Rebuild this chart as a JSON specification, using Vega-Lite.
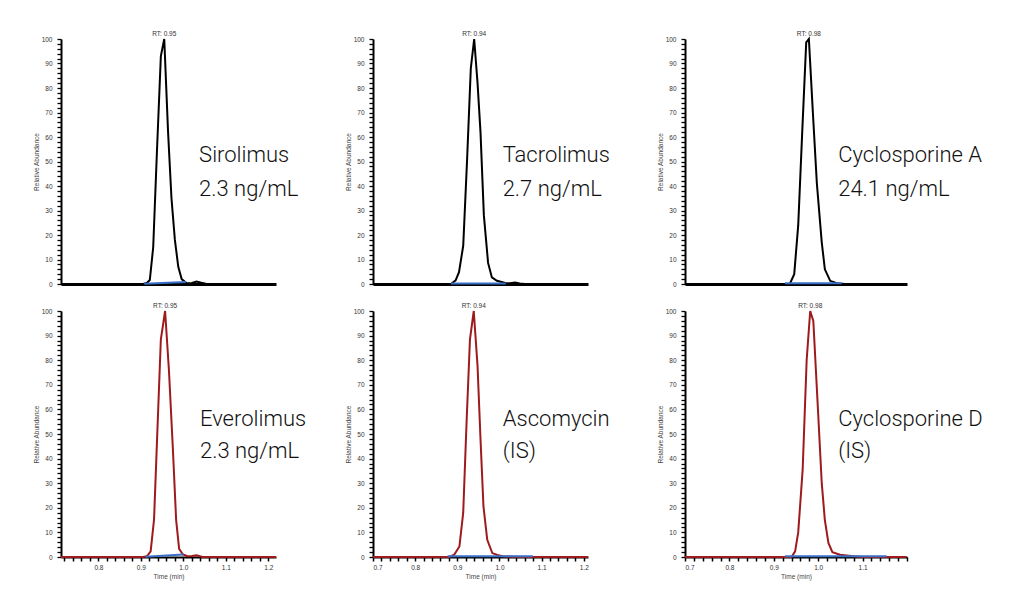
{
  "$schema": "https://vega.github.io/schema/vega-lite/v6.json",
  "padding": {"left": 33, "top": 31, "right": 5, "bottom": 5},
  "background": "white",
  "datasets": {
    "traces": [
      {"p": "Sirolimus", "t": 0.712, "a": 0}, {"p": "Sirolimus", "t": 0.905, "a": 0}, {"p": "Sirolimus", "t": 0.914, "a": 0.4}, {"p": "Sirolimus", "t": 0.921, "a": 1.6}, {"p": "Sirolimus", "t": 0.929, "a": 15}, {"p": "Sirolimus", "t": 0.938, "a": 55}, {"p": "Sirolimus", "t": 0.947, "a": 93}, {"p": "Sirolimus", "t": 0.955, "a": 100}, {"p": "Sirolimus", "t": 0.964, "a": 62}, {"p": "Sirolimus", "t": 0.972, "a": 35}, {"p": "Sirolimus", "t": 0.98, "a": 18}, {"p": "Sirolimus", "t": 0.988, "a": 7}, {"p": "Sirolimus", "t": 0.996, "a": 2}, {"p": "Sirolimus", "t": 1.008, "a": 0.3}, {"p": "Sirolimus", "t": 1.02, "a": 0.4}, {"p": "Sirolimus", "t": 1.031, "a": 1.0}, {"p": "Sirolimus", "t": 1.042, "a": 0.5}, {"p": "Sirolimus", "t": 1.055, "a": 0}, {"p": "Sirolimus", "t": 1.218, "a": 0},
      {"p": "Tacrolimus", "t": 0.7, "a": 0}, {"p": "Tacrolimus", "t": 0.885, "a": 0}, {"p": "Tacrolimus", "t": 0.896, "a": 1.5}, {"p": "Tacrolimus", "t": 0.904, "a": 4.8}, {"p": "Tacrolimus", "t": 0.914, "a": 15.6}, {"p": "Tacrolimus", "t": 0.923, "a": 50}, {"p": "Tacrolimus", "t": 0.932, "a": 88}, {"p": "Tacrolimus", "t": 0.94, "a": 100}, {"p": "Tacrolimus", "t": 0.948, "a": 82}, {"p": "Tacrolimus", "t": 0.955, "a": 62}, {"p": "Tacrolimus", "t": 0.963, "a": 28}, {"p": "Tacrolimus", "t": 0.973, "a": 8.6}, {"p": "Tacrolimus", "t": 0.982, "a": 2.7}, {"p": "Tacrolimus", "t": 0.994, "a": 1.3}, {"p": "Tacrolimus", "t": 1.014, "a": 0.4}, {"p": "Tacrolimus", "t": 1.025, "a": 0.3}, {"p": "Tacrolimus", "t": 1.037, "a": 0.6}, {"p": "Tacrolimus", "t": 1.048, "a": 0.2}, {"p": "Tacrolimus", "t": 1.06, "a": 0}, {"p": "Tacrolimus", "t": 1.21, "a": 0},
      {"p": "CsA", "t": 0.7, "a": 0}, {"p": "CsA", "t": 0.936, "a": 0}, {"p": "CsA", "t": 0.946, "a": 4}, {"p": "CsA", "t": 0.955, "a": 24}, {"p": "CsA", "t": 0.964, "a": 62}, {"p": "CsA", "t": 0.973, "a": 98.6}, {"p": "CsA", "t": 0.979, "a": 100}, {"p": "CsA", "t": 0.988, "a": 70}, {"p": "CsA", "t": 0.997, "a": 41}, {"p": "CsA", "t": 1.008, "a": 17}, {"p": "CsA", "t": 1.015, "a": 6}, {"p": "CsA", "t": 1.027, "a": 1.3}, {"p": "CsA", "t": 1.042, "a": 0.3}, {"p": "CsA", "t": 1.06, "a": 0}, {"p": "CsA", "t": 1.198, "a": 0},
      {"p": "Everolimus", "t": 0.712, "a": 0}, {"p": "Everolimus", "t": 0.905, "a": 0}, {"p": "Everolimus", "t": 0.914, "a": 0.3}, {"p": "Everolimus", "t": 0.923, "a": 2.3}, {"p": "Everolimus", "t": 0.931, "a": 15.3}, {"p": "Everolimus", "t": 0.939, "a": 52}, {"p": "Everolimus", "t": 0.947, "a": 88.5}, {"p": "Everolimus", "t": 0.957, "a": 100}, {"p": "Everolimus", "t": 0.966, "a": 76}, {"p": "Everolimus", "t": 0.975, "a": 45}, {"p": "Everolimus", "t": 0.983, "a": 15}, {"p": "Everolimus", "t": 0.99, "a": 3.3}, {"p": "Everolimus", "t": 0.999, "a": 1}, {"p": "Everolimus", "t": 1.01, "a": 0.3}, {"p": "Everolimus", "t": 1.02, "a": 0.4}, {"p": "Everolimus", "t": 1.031, "a": 0.7}, {"p": "Everolimus", "t": 1.045, "a": 0}, {"p": "Everolimus", "t": 1.218, "a": 0},
      {"p": "Ascomycin", "t": 0.7, "a": 0}, {"p": "Ascomycin", "t": 0.881, "a": 0}, {"p": "Ascomycin", "t": 0.893, "a": 1}, {"p": "Ascomycin", "t": 0.905, "a": 4.3}, {"p": "Ascomycin", "t": 0.914, "a": 18}, {"p": "Ascomycin", "t": 0.922, "a": 55}, {"p": "Ascomycin", "t": 0.93, "a": 88.5}, {"p": "Ascomycin", "t": 0.939, "a": 100}, {"p": "Ascomycin", "t": 0.948, "a": 77.6}, {"p": "Ascomycin", "t": 0.955, "a": 48}, {"p": "Ascomycin", "t": 0.962, "a": 20.6}, {"p": "Ascomycin", "t": 0.971, "a": 7}, {"p": "Ascomycin", "t": 0.983, "a": 1.6}, {"p": "Ascomycin", "t": 0.995, "a": 0.8}, {"p": "Ascomycin", "t": 1.007, "a": 0.3}, {"p": "Ascomycin", "t": 1.03, "a": 0.1}, {"p": "Ascomycin", "t": 1.05, "a": 0}, {"p": "Ascomycin", "t": 1.21, "a": 0},
      {"p": "CsD", "t": 0.7, "a": 0}, {"p": "CsD", "t": 0.94, "a": 0}, {"p": "CsD", "t": 0.948, "a": 2.3}, {"p": "CsD", "t": 0.955, "a": 10}, {"p": "CsD", "t": 0.965, "a": 35.5}, {"p": "CsD", "t": 0.974, "a": 80}, {"p": "CsD", "t": 0.982, "a": 100}, {"p": "CsD", "t": 0.989, "a": 96}, {"p": "CsD", "t": 1.0, "a": 58}, {"p": "CsD", "t": 1.008, "a": 30}, {"p": "CsD", "t": 1.015, "a": 15}, {"p": "CsD", "t": 1.023, "a": 5.7}, {"p": "CsD", "t": 1.032, "a": 2}, {"p": "CsD", "t": 1.049, "a": 0.9}, {"p": "CsD", "t": 1.079, "a": 0.3}, {"p": "CsD", "t": 1.1, "a": 0}, {"p": "CsD", "t": 1.198, "a": 0}
    ],
    "base": [
      {"p": "Sirolimus", "t": 0.908, "a": 0.1}, {"p": "Sirolimus", "t": 1.006, "a": 0.8},
      {"p": "Tacrolimus", "t": 0.885, "a": 0.2}, {"p": "Tacrolimus", "t": 1.015, "a": 0.2},
      {"p": "CsA", "t": 0.925, "a": 0.3}, {"p": "CsA", "t": 1.053, "a": 0.3},
      {"p": "Everolimus", "t": 0.911, "a": 0.1}, {"p": "Everolimus", "t": 1.0, "a": 1.0},
      {"p": "Ascomycin", "t": 0.877, "a": 0.3}, {"p": "Ascomycin", "t": 1.079, "a": 0.3},
      {"p": "CsD", "t": 0.925, "a": 0.3}, {"p": "CsD", "t": 1.154, "a": 0.3}
    ],
    "rt": [
      {"p": "Sirolimus", "t": 0.955, "txt": "RT: 0.95"},
      {"p": "Tacrolimus", "t": 0.94, "txt": "RT: 0.94"},
      {"p": "CsA", "t": 0.979, "txt": "RT: 0.98"},
      {"p": "Everolimus", "t": 0.957, "txt": "RT: 0.95"},
      {"p": "Ascomycin", "t": 0.939, "txt": "RT: 0.94"},
      {"p": "CsD", "t": 0.982, "txt": "RT: 0.98"}
    ],
    "ann": [
      {"p": "Sirolimus", "t": 1.037, "a": 49.8, "txt": "Sirolimus"}, {"p": "Sirolimus", "t": 1.037, "a": 36, "txt": "2.3 ng/mL"},
      {"p": "Tacrolimus", "t": 1.0075, "a": 49.8, "txt": "Tacrolimus"}, {"p": "Tacrolimus", "t": 1.0075, "a": 36, "txt": "2.7 ng/mL"},
      {"p": "CsA", "t": 1.045, "a": 49.8, "txt": "Cyclosporine A"}, {"p": "CsA", "t": 1.045, "a": 36, "txt": "24.1 ng/mL"},
      {"p": "Everolimus", "t": 1.039, "a": 53.2, "txt": "Everolimus"}, {"p": "Everolimus", "t": 1.039, "a": 40.3, "txt": "2.3 ng/mL"},
      {"p": "Ascomycin", "t": 1.008, "a": 53.2, "txt": "Ascomycin"}, {"p": "Ascomycin", "t": 1.008, "a": 40.3, "txt": "(IS)"},
      {"p": "CsD", "t": 1.045, "a": 53.2, "txt": "Cyclosporine D"}, {"p": "CsD", "t": 1.045, "a": 40.3, "txt": "(IS)"}
    ]
  },
  "bounds": "flush",
  "columns": 3,
  "spacing": {"row": 27, "column": 97},
  "concat": [
    {
      "width": 215, "height": 245,
      "layer": [
        {"data": {"name": "traces"}, "transform": [{"filter": "datum.p === 'Sirolimus'"}],
         "mark": {"type": "line", "color": "black", "strokeWidth": 2},
         "encoding": {
           "x": {"field": "t", "type": "quantitative", "scale": {"domain": [0.712, 1.218], "nice": false, "zero": false}, "axis": {"labels": false, "ticks": false, "title": null, "domainWidth": 3}},
           "y": {"field": "a", "type": "quantitative", "scale": {"domain": [0, 100], "nice": false}, "axis": {"title": "Relative Abundance", "tickCount": 50, "labelOverlap": false, "labelExpr": "datum.value % 10 === 0 ? datum.label : ''"}}}},
        {"data": {"name": "base"}, "transform": [{"filter": "datum.p === 'Sirolimus'"}],
         "mark": {"type": "line", "color": "#3a6fc7", "strokeWidth": 2},
         "encoding": {"x": {"field": "t", "type": "quantitative"}, "y": {"field": "a", "type": "quantitative"}}},
        {"data": {"name": "rt"}, "transform": [{"filter": "datum.p === 'Sirolimus'"}],
         "mark": {"type": "text", "fontSize": 6.5, "font": "Liberation Sans", "color": "#333", "baseline": "bottom", "dy": -2},
         "encoding": {"x": {"field": "t", "type": "quantitative"}, "y": {"datum": 100}, "text": {"field": "txt"}}},
        {"data": {"name": "ann"}, "transform": [{"filter": "datum.p === 'Sirolimus'"}],
         "mark": {"type": "text", "fontSize": 22, "font": "Roboto", "fontWeight": 300, "color": "#111", "align": "left", "baseline": "alphabetic"},
         "encoding": {"x": {"field": "t", "type": "quantitative"}, "y": {"field": "a", "type": "quantitative"}, "text": {"field": "txt"}}}
      ]
    },
    {
      "width": 215, "height": 245,
      "layer": [
        {"data": {"name": "traces"}, "transform": [{"filter": "datum.p === 'Tacrolimus'"}],
         "mark": {"type": "line", "color": "black", "strokeWidth": 2},
         "encoding": {
           "x": {"field": "t", "type": "quantitative", "scale": {"domain": [0.7, 1.21], "nice": false, "zero": false}, "axis": {"labels": false, "ticks": false, "title": null, "domainWidth": 3}},
           "y": {"field": "a", "type": "quantitative", "scale": {"domain": [0, 100], "nice": false}, "axis": {"title": "Relative Abundance", "tickCount": 50, "labelOverlap": false, "labelExpr": "datum.value % 10 === 0 ? datum.label : ''"}}}},
        {"data": {"name": "base"}, "transform": [{"filter": "datum.p === 'Tacrolimus'"}],
         "mark": {"type": "line", "color": "#3a6fc7", "strokeWidth": 2},
         "encoding": {"x": {"field": "t", "type": "quantitative"}, "y": {"field": "a", "type": "quantitative"}}},
        {"data": {"name": "rt"}, "transform": [{"filter": "datum.p === 'Tacrolimus'"}],
         "mark": {"type": "text", "fontSize": 6.5, "font": "Liberation Sans", "color": "#333", "baseline": "bottom", "dy": -2},
         "encoding": {"x": {"field": "t", "type": "quantitative"}, "y": {"datum": 100}, "text": {"field": "txt"}}},
        {"data": {"name": "ann"}, "transform": [{"filter": "datum.p === 'Tacrolimus'"}],
         "mark": {"type": "text", "fontSize": 22, "font": "Roboto", "fontWeight": 300, "color": "#111", "align": "left", "baseline": "alphabetic"},
         "encoding": {"x": {"field": "t", "type": "quantitative"}, "y": {"field": "a", "type": "quantitative"}, "text": {"field": "txt"}}}
      ]
    },
    {
      "width": 222, "height": 245,
      "layer": [
        {"data": {"name": "traces"}, "transform": [{"filter": "datum.p === 'CsA'"}],
         "mark": {"type": "line", "color": "black", "strokeWidth": 2},
         "encoding": {
           "x": {"field": "t", "type": "quantitative", "scale": {"domain": [0.7, 1.2], "nice": false, "zero": false}, "axis": {"labels": false, "ticks": false, "title": null, "domainWidth": 3}},
           "y": {"field": "a", "type": "quantitative", "scale": {"domain": [0, 100], "nice": false}, "axis": {"title": "Relative Abundance", "tickCount": 50, "labelOverlap": false, "labelExpr": "datum.value % 10 === 0 ? datum.label : ''"}}}},
        {"data": {"name": "base"}, "transform": [{"filter": "datum.p === 'CsA'"}],
         "mark": {"type": "line", "color": "#3a6fc7", "strokeWidth": 2},
         "encoding": {"x": {"field": "t", "type": "quantitative"}, "y": {"field": "a", "type": "quantitative"}}},
        {"data": {"name": "rt"}, "transform": [{"filter": "datum.p === 'CsA'"}],
         "mark": {"type": "text", "fontSize": 6.5, "font": "Liberation Sans", "color": "#333", "baseline": "bottom", "dy": -2},
         "encoding": {"x": {"field": "t", "type": "quantitative"}, "y": {"datum": 100}, "text": {"field": "txt"}}},
        {"data": {"name": "ann"}, "transform": [{"filter": "datum.p === 'CsA'"}],
         "mark": {"type": "text", "fontSize": 22, "font": "Roboto", "fontWeight": 300, "color": "#111", "align": "left", "baseline": "alphabetic"},
         "encoding": {"x": {"field": "t", "type": "quantitative"}, "y": {"field": "a", "type": "quantitative"}, "text": {"field": "txt"}}}
      ]
    },
    {
      "width": 215, "height": 246,
      "layer": [
        {"data": {"name": "traces"}, "transform": [{"filter": "datum.p === 'Everolimus'"}],
         "mark": {"type": "line", "color": "#9e1a1d", "strokeWidth": 2},
         "encoding": {
           "x": {"field": "t", "type": "quantitative", "scale": {"domain": [0.712, 1.218], "nice": false, "zero": false}, "axis": {"title": "Time (min)", "tickCount": 25, "labelOverlap": false, "labelExpr": "abs(datum.value*10 - round(datum.value*10)) < 0.0001 ? format(datum.value, '.1f') : ''"}},
           "y": {"field": "a", "type": "quantitative", "scale": {"domain": [0, 100], "nice": false}, "axis": {"title": "Relative Abundance", "tickCount": 50, "labelOverlap": false, "labelExpr": "datum.value % 10 === 0 ? datum.label : ''"}}}},
        {"data": {"name": "base"}, "transform": [{"filter": "datum.p === 'Everolimus'"}],
         "mark": {"type": "line", "color": "#3a6fc7", "strokeWidth": 2},
         "encoding": {"x": {"field": "t", "type": "quantitative"}, "y": {"field": "a", "type": "quantitative"}}},
        {"data": {"name": "rt"}, "transform": [{"filter": "datum.p === 'Everolimus'"}],
         "mark": {"type": "text", "fontSize": 6.5, "font": "Liberation Sans", "color": "#333", "baseline": "bottom", "dy": -2},
         "encoding": {"x": {"field": "t", "type": "quantitative"}, "y": {"datum": 100}, "text": {"field": "txt"}}},
        {"data": {"name": "ann"}, "transform": [{"filter": "datum.p === 'Everolimus'"}],
         "mark": {"type": "text", "fontSize": 22, "font": "Roboto", "fontWeight": 300, "color": "#111", "align": "left", "baseline": "alphabetic"},
         "encoding": {"x": {"field": "t", "type": "quantitative"}, "y": {"field": "a", "type": "quantitative"}, "text": {"field": "txt"}}}
      ]
    },
    {
      "width": 215, "height": 246,
      "layer": [
        {"data": {"name": "traces"}, "transform": [{"filter": "datum.p === 'Ascomycin'"}],
         "mark": {"type": "line", "color": "#9e1a1d", "strokeWidth": 2},
         "encoding": {
           "x": {"field": "t", "type": "quantitative", "scale": {"domain": [0.7, 1.21], "nice": false, "zero": false}, "axis": {"title": "Time (min)", "tickCount": 25, "labelOverlap": false, "labelExpr": "abs(datum.value*10 - round(datum.value*10)) < 0.0001 ? format(datum.value, '.1f') : ''"}},
           "y": {"field": "a", "type": "quantitative", "scale": {"domain": [0, 100], "nice": false}, "axis": {"title": "Relative Abundance", "tickCount": 50, "labelOverlap": false, "labelExpr": "datum.value % 10 === 0 ? datum.label : ''"}}}},
        {"data": {"name": "base"}, "transform": [{"filter": "datum.p === 'Ascomycin'"}],
         "mark": {"type": "line", "color": "#3a6fc7", "strokeWidth": 2},
         "encoding": {"x": {"field": "t", "type": "quantitative"}, "y": {"field": "a", "type": "quantitative"}}},
        {"data": {"name": "rt"}, "transform": [{"filter": "datum.p === 'Ascomycin'"}],
         "mark": {"type": "text", "fontSize": 6.5, "font": "Liberation Sans", "color": "#333", "baseline": "bottom", "dy": -2},
         "encoding": {"x": {"field": "t", "type": "quantitative"}, "y": {"datum": 100}, "text": {"field": "txt"}}},
        {"data": {"name": "ann"}, "transform": [{"filter": "datum.p === 'Ascomycin'"}],
         "mark": {"type": "text", "fontSize": 22, "font": "Roboto", "fontWeight": 300, "color": "#111", "align": "left", "baseline": "alphabetic"},
         "encoding": {"x": {"field": "t", "type": "quantitative"}, "y": {"field": "a", "type": "quantitative"}, "text": {"field": "txt"}}}
      ]
    },
    {
      "width": 222, "height": 246,
      "layer": [
        {"data": {"name": "traces"}, "transform": [{"filter": "datum.p === 'CsD'"}],
         "mark": {"type": "line", "color": "#9e1a1d", "strokeWidth": 2},
         "encoding": {
           "x": {"field": "t", "type": "quantitative", "scale": {"domain": [0.7, 1.2], "nice": false, "zero": false}, "axis": {"title": "Time (min)", "tickCount": 25, "labelOverlap": false, "labelExpr": "abs(datum.value*10 - round(datum.value*10)) < 0.0001 && datum.value < 1.15 ? format(datum.value, '.1f') : ''"}},
           "y": {"field": "a", "type": "quantitative", "scale": {"domain": [0, 100], "nice": false}, "axis": {"title": "Relative Abundance", "tickCount": 50, "labelOverlap": false, "labelExpr": "datum.value % 10 === 0 ? datum.label : ''"}}}},
        {"data": {"name": "base"}, "transform": [{"filter": "datum.p === 'CsD'"}],
         "mark": {"type": "line", "color": "#3a6fc7", "strokeWidth": 2},
         "encoding": {"x": {"field": "t", "type": "quantitative"}, "y": {"field": "a", "type": "quantitative"}}},
        {"data": {"name": "rt"}, "transform": [{"filter": "datum.p === 'CsD'"}],
         "mark": {"type": "text", "fontSize": 6.5, "font": "Liberation Sans", "color": "#333", "baseline": "bottom", "dy": -2},
         "encoding": {"x": {"field": "t", "type": "quantitative"}, "y": {"datum": 100}, "text": {"field": "txt"}}},
        {"data": {"name": "ann"}, "transform": [{"filter": "datum.p === 'CsD'"}],
         "mark": {"type": "text", "fontSize": 22, "font": "Roboto", "fontWeight": 300, "color": "#111", "align": "left", "baseline": "alphabetic"},
         "encoding": {"x": {"field": "t", "type": "quantitative"}, "y": {"field": "a", "type": "quantitative"}, "text": {"field": "txt"}}}
      ]
    }
  ],
  "config": {
    "view": {"stroke": null},
    "axis": {"grid": false, "domainColor": "black", "tickColor": "black", "labelColor": "#333", "titleColor": "#444", "labelFont": "Liberation Sans", "titleFont": "Liberation Sans", "labelFontSize": 6.5, "titleFontSize": 6.5, "titleFontWeight": "normal"},
    "axisY": {"domainWidth": 2, "tickWidth": 1.3, "tickSize": 4, "labelPadding": 5, "titlePadding": 2},
    "axisX": {"domainWidth": 2, "tickWidth": 1.5, "tickSize": 4, "labelPadding": 3, "titlePadding": 3}
  }
}
